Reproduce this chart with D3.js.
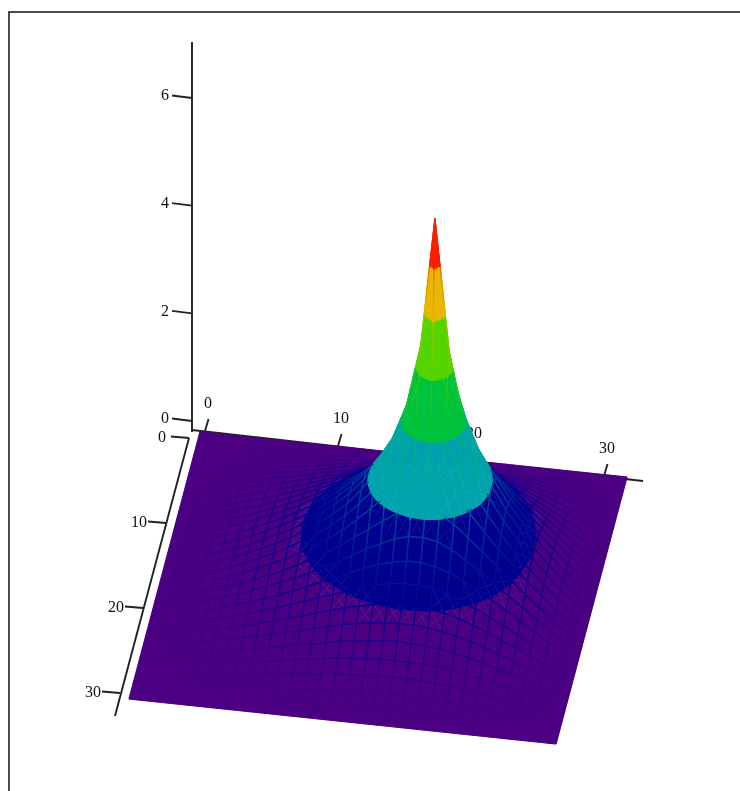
<!DOCTYPE html>
<html>
<head>
<meta charset="utf-8">
<script src="https://cdn.jsdelivr.net/npm/d3@7"></script>
<style>
html, body { margin: 0; padding: 0; background: #fff; overflow: hidden; }
svg { filter: blur(0.45px); }
text { font-family: "Liberation Serif", serif; font-size: 16px; fill: #111; }
</style>
</head>
<body>
<div id="plot"></div>
<script>
// tick labels
var xTicks = [0, 10, 20, 30];
var yTicks = [0, 10, 20, 30];
var zTicks = [0, 2, 4, 6];

// contour bands, low edge of each one and the colour it is filled with
var bandEdges = [0, 1.05, 2.11, 3.2, 4.19, 5.2, 6.12, 7.2];
var bandColors = ["#4b0082", "#00008f", "#00a3ad", "#00c23c", "#55d400", "#e8b800", "#fa2000", "#fa2000"];

// Heights are not read cell by cell, the picture does not allow it. They are hand estimates:
// a log-shaped bump with the sheet edge held at 0, fitted to where the contours sit in the picture.
// 31 x 31 points stretched over the 0-32 axes, the original grid is probably a bit finer.
// Rows run from the edge of the sheet down to the row with the peak.
var heightRows = [
  [0,0,0,0,0,0,0,0,0,0,0,0,0,0,0,0,0,0,0,0,0,0,0,0,0,0,0,0,0,0,0],
  [0,.01,.01,.02,.03,.03,.04,.05,.06,.06,.08,.09,.10,.10,.11,.12,.12,.13,.13,.12,.12,.12,.11,.10,.09,.08,.06,.04,.03,.02,0],
  [0,.01,.03,.04,.05,.08,.09,.11,.12,.14,.16,.18,.19,.22,.23,.24,.26,.26,.27,.26,.26,.25,.23,.21,.18,.16,.13,.10,.06,.03,0],
  [0,.02,.04,.06,.09,.11,.13,.16,.18,.22,.25,.27,.30,.32,.36,.37,.39,.40,.41,.40,.40,.38,.36,.32,.28,.24,.19,.15,.10,.05,0],
  [0,.03,.05,.09,.12,.15,.18,.22,.25,.29,.33,.38,.41,.45,.49,.51,.53,.56,.56,.55,.54,.52,.49,.44,.39,.33,.27,.21,.14,.06,0],
  [0,.03,.08,.11,.15,.19,.24,.28,.32,.38,.43,.49,.53,.58,.64,.67,.70,.73,.75,.73,.72,.68,.64,.58,.51,.43,.36,.27,.18,.09,0],
  [0,.04,.09,.14,.18,.24,.29,.35,.40,.46,.53,.58,.65,.71,.78,.83,.87,.90,.92,.91,.89,.84,.79,.71,.63,.53,.43,.32,.22,.11,0],
  [0,.05,.11,.16,.22,.28,.33,.40,.48,.54,.62,.69,.78,.85,.93,.99,1.05,1.09,1.11,1.10,1.08,1.02,.95,.85,.75,.63,.51,.39,.26,.13,0],
  [0,.06,.12,.18,.25,.31,.39,.46,.54,.62,.71,.80,.90,.98,1.08,1.17,1.24,1.30,1.33,1.32,1.29,1.22,1.12,1.00,.87,.73,.59,.44,.30,.15,0],
  [0,.06,.13,.21,.28,.35,.43,.51,.60,.69,.80,.91,1.02,1.12,1.24,1.36,1.46,1.53,1.58,1.58,1.53,1.45,1.32,1.18,1.02,.85,.68,.51,.33,.17,0],
  [0,.08,.15,.23,.30,.38,.46,.56,.66,.77,.87,1.00,1.13,1.26,1.41,1.56,1.68,1.80,1.87,1.88,1.83,1.71,1.54,1.36,1.17,.96,.77,.57,.38,.18,0],
  [0,.08,.16,.24,.32,.41,.50,.60,.71,.82,.95,1.09,1.24,1.40,1.58,1.76,1.94,2.11,2.22,2.25,2.18,2.01,1.79,1.56,1.32,1.08,.85,.63,.41,.21,0],
  [0,.09,.16,.25,.33,.43,.53,.64,.76,.87,1.02,1.17,1.33,1.52,1.74,1.98,2.22,2.46,2.67,2.72,2.62,2.37,2.06,1.75,1.46,1.18,.92,.68,.44,.23,0],
  [0,.09,.17,.26,.35,.44,.55,.66,.78,.92,1.06,1.22,1.41,1.62,1.87,2.16,2.49,2.87,3.26,3.41,3.21,2.76,2.33,1.93,1.58,1.26,.98,.72,.48,.24,0],
  [0,.09,.17,.26,.36,.45,.56,.68,.80,.94,1.09,1.26,1.46,1.68,1.97,2.30,2.71,3.27,4.06,4.60,4.00,3.16,2.55,2.06,1.66,1.33,1.03,.75,.49,.24,0],
  [0,.09,.17,.27,.36,.46,.56,.68,.81,.94,1.10,1.27,1.48,1.71,1.99,2.35,2.81,3.46,4.60,7.00,4.55,3.34,2.64,2.12,1.70,1.35,1.04,.76,.50,.25,0]
];
// the sheet is taken as the same on both sides of the peak row
var heights = heightRows.concat(heightRows.slice(0, -1).reverse());

var width = 740, height = 791;
var gridMax = 32;
var nCols = heights[0].length - 1, nRows = heights.length - 1;

var svg = d3.select("#plot").append("svg").attr("width", width).attr("height", height);

// oblique projection, one scale per axis direction
var xToLeft = d3.scaleLinear().domain([0, gridMax]).range([0, 427]);
var xToTop = d3.scaleLinear().domain([0, gridMax]).range([0, 45]);
var yToLeft = d3.scaleLinear().domain([0, gridMax]).range([0, -71]);
var yToTop = d3.scaleLinear().domain([0, gridMax]).range([0, 267]);
var zToTop = d3.scaleLinear().domain([0, 6]).range([0, -322]);
var colToX = d3.scaleLinear().domain([0, nCols]).range([0, gridMax]);
var rowToY = d3.scaleLinear().domain([0, nRows]).range([0, gridMax]);
var originLeft = 200, originTop = 432;

function project(col, row, z) {
  var x = colToX(col), y = rowToY(row);
  return [originLeft + xToLeft(x) + yToLeft(y), originTop + xToTop(x) + yToTop(y) + zToTop(z)];
}

var lineColor = d3.scaleLinear().domain(bandEdges).range(bandColors).clamp(true);

// page frame
svg.append("path").attr("d", "M9,791V12H740").attr("fill", "none").attr("stroke", "#111").attr("stroke-width", 1.5);

var axisStyle = { stroke: "#222", width: 1.9 };

function drawAxis(name, from, to, ticks, tickPos, tickEnd, labelPos) {
  var g = svg.append("g").attr("class", name);
  g.append("line").attr("x1", from[0]).attr("y1", from[1]).attr("x2", to[0]).attr("y2", to[1])
    .attr("stroke", axisStyle.stroke).attr("stroke-width", axisStyle.width);
  g.selectAll("line.tick").data(ticks).join("line").attr("class", "tick")
    .attr("x1", function (d) { return tickPos(d)[0]; })
    .attr("y1", function (d) { return tickPos(d)[1]; })
    .attr("x2", function (d) { return tickPos(d)[0] + tickEnd[0]; })
    .attr("y2", function (d) { return tickPos(d)[1] + tickEnd[1]; })
    .attr("stroke", axisStyle.stroke).attr("stroke-width", axisStyle.width);
  g.selectAll("text").data(ticks).join("text")
    .attr("x", function (d) { return labelPos(d)[0]; })
    .attr("y", function (d) { return labelPos(d)[1]; })
    .attr("text-anchor", "middle").attr("dy", "0.34em")
    .text(function (d) { return d; });
}

// axes go down first, the sheet covers them
var xAxisLeft = d3.scaleLinear().domain([0, 30]).range([205, 604]);
var xAxisTop = d3.scaleLinear().domain([0, 30]).range([431, 476]);
drawAxis("x-axis", [192, 430], [643, 481], xTicks,
  function (d) { return [xAxisLeft(d), xAxisTop(d)]; }, [3.5, -12],
  function (d) { return [xAxisLeft(d) + 3, xAxisTop(d) - 28.5]; });

var yAxisLeft = d3.scaleLinear().domain([0, 30]).range([189, 120]);
var yAxisTop = d3.scaleLinear().domain([0, 30]).range([438, 693]);
drawAxis("y-axis", [189, 438], [115, 716], yTicks,
  function (d) { return [yAxisLeft(d), yAxisTop(d)]; }, [-18, -1.5],
  function (d) { return [yAxisLeft(d) - 27, yAxisTop(d) - 1.5]; });

var zAxisTop = d3.scaleLinear().domain([0, 6]).range([421, 98]);
drawAxis("z-axis", [192, 42], [192, 432], zTicks,
  function (d) { return [192, zAxisTop(d)]; }, [-20, -2.5],
  function (d) { return [165, zAxisTop(d) - 3]; });

// cut a polygon down to the part between two heights
function clipAbove(poly, lim, sign) {
  var out = [];
  poly.forEach(function (p, k) {
    var q = poly[(k + 1) % poly.length];
    var pIn = sign * (p[2] - lim) >= 0, qIn = sign * (q[2] - lim) >= 0;
    if (pIn) out.push(p);
    if (pIn !== qIn) {
      var t = (lim - p[2]) / (q[2] - p[2]);
      out.push([p[0] + t * (q[0] - p[0]), p[1] + t * (q[1] - p[1]), lim]);
    }
  });
  return out;
}

var polyPath = d3.line().x(function (p) { return project(p[0], p[1], p[2])[0]; })
  .y(function (p) { return project(p[0], p[1], p[2])[1]; })
  .curve(d3.curveLinearClosed);
var segPath = d3.line().x(function (p) { return project(p[0], p[1], p[2])[0]; })
  .y(function (p) { return project(p[0], p[1], p[2])[1]; });

function bandOf(z) {
  return d3.bisectRight(bandEdges, z) - 1;
}

// mesh colour follows the height, softened above the purple band
function meshColor(z) {
  var b = bandOf(z);
  return d3.interpolateRgb(bandColors[b], lineColor(z))(b === 0 ? 1 : 0.5);
}

// cells from the back of the sheet to the front
var cells = [];
d3.range(nRows).forEach(function (r) {
  d3.range(nCols).forEach(function (c) { cells.push([c, r]); });
});
cells.sort(function (a, b) { return (45 * a[0] + 266 * a[1]) - (45 * b[0] + 266 * b[1]); });

var sheet = svg.append("g").attr("class", "sheet");

cells.forEach(function (cell) {
  var c = cell[0], r = cell[1];
  var corners = [[c, r], [c + 1, r], [c + 1, r + 1], [c, r + 1]].map(function (p) {
    return [p[0], p[1], heights[p[1]][p[0]]];
  });
  var bands = corners.map(function (p) { return bandOf(p[2]); });
  if (d3.min(bands) === d3.max(bands)) {
    // whole cell in one band, no need to cut it
    sheet.append("path").attr("d", polyPath(corners))
      .attr("fill", bandColors[bands[0]]).attr("stroke", bandColors[bands[0]]).attr("stroke-width", 0.5);
  } else {
    var mid = [c + 0.5, r + 0.5, d3.mean(corners, function (p) { return p[2]; })];
    var tris = d3.range(4).map(function (k) { return [corners[k], corners[(k + 1) % 4], mid]; });
    // back triangle first
    tris.sort(function (a, b) {
      return d3.mean(a, function (p) { return 45 * p[0] + 266 * p[1]; }) - d3.mean(b, function (p) { return 45 * p[0] + 266 * p[1]; });
    });
    tris.forEach(function (tri) {
      d3.range(bandEdges.length - 1).forEach(function (b) {
        var part = clipAbove(clipAbove(tri, bandEdges[b], 1), bandEdges[b + 1], -1);
        if (part.length < 3) return;
        sheet.append("path").attr("d", polyPath(part))
          .attr("fill", bandColors[b]).attr("stroke", bandColors[b]).attr("stroke-width", 0.5);
      });
    });
  }
  // mesh, coloured by height along the line
  d3.range(4).forEach(function (k) {
    var p = corners[k], q = corners[(k + 1) % 4];
    var steps = Math.max(1, Math.ceil(Math.abs(q[2] - p[2]) * 12));
    d3.range(steps).forEach(function (s) {
      var t0 = s / steps, t1 = (s + 1) / steps;
      var a = [p[0] + t0 * (q[0] - p[0]), p[1] + t0 * (q[1] - p[1]), p[2] + t0 * (q[2] - p[2])];
      var b = [p[0] + t1 * (q[0] - p[0]), p[1] + t1 * (q[1] - p[1]), p[2] + t1 * (q[2] - p[2])];
      sheet.append("path").attr("d", segPath([a, b])).attr("fill", "none")
        .attr("stroke", meshColor((a[2] + b[2]) / 2)).attr("stroke-width", 1.2);
    });
  });
});
</script>
</body>
</html>
